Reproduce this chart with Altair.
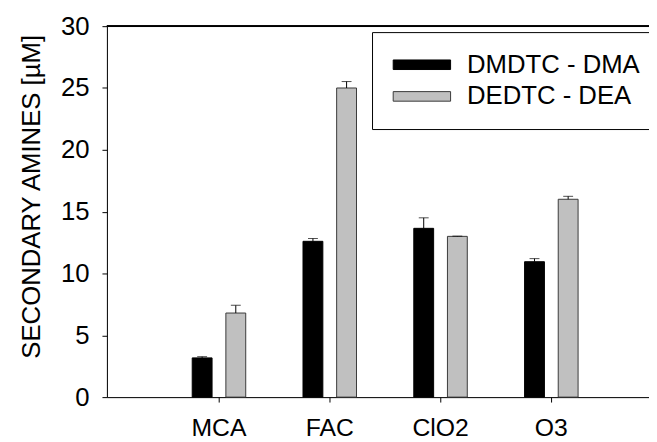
import altair as alt
import pandas as pd

categories = ["MCA", "FAC", "ClO2", "O3"]
series = ["DMDTC - DMA", "DEDTC - DEA"]
dma = [3.17, 12.6, 13.65, 10.95]
dma_err = [0.10, 0.23, 0.85, 0.25]
dea = [6.8, 25.0, 13.0, 16.0]
dea_err = [0.62, 0.52, 0.02, 0.24]

rows = []
for i, c in enumerate(categories):
    rows.append({"cat": c, "series": series[0], "value": dma[i], "hi": dma[i] + dma_err[i]})
    rows.append({"cat": c, "series": series[1], "value": dea[i], "hi": dea[i] + dea_err[i]})
df = pd.DataFrame(rows)

FONT = "Liberation Sans"

xenc = alt.X("cat:N", sort=categories, title=None,
             scale=alt.Scale(paddingInner=0.517, paddingOuter=0.705, align=0.546),
             axis=alt.Axis(labelAngle=0, labelFontSize=25, labelFont=FONT, labelColor="black",
                           tickSize=5, tickColor="black", domainColor="black", labelPadding=14))
xoff = alt.XOffset("series:N", sort=series, scale=alt.Scale(paddingInner=0.41, paddingOuter=0))
yscale = alt.Scale(domain=[0, 30], nice=False)

bars = alt.Chart(df).mark_bar(strokeWidth=1).encode(
    x=xenc,
    xOffset=xoff,
    y=alt.Y("value:Q", scale=yscale, title="SECONDARY AMINES [µM]",
            axis=alt.Axis(values=[0, 5, 10, 15, 20, 25, 30], grid=False, labelFontSize=26,
                          labelFont=FONT, labelColor="black", titleFont=FONT, titleFontSize=26,
                          titleFontWeight="normal", titleColor="black", tickSize=5,
                          tickColor="black", domainColor="black", labelPadding=13,
                          titlePadding=16, titleY=172)),
    fill=alt.Fill("series:N", sort=series,
                  scale=alt.Scale(domain=series, range=["#000000", "#c0c0c0"]),
                  legend=alt.Legend(title=None, orient="none", legendX=268, legendY=6,
                                    direction="vertical", labelFont=FONT, labelFontSize=26,
                                    labelColor="black", labelOffset=50,
                                    symbolType="M-1.2,-0.5H4.8V0.5H-1.2Z", symbolSize=374,
                                    symbolStrokeWidth=1, rowPadding=6, padding=20,
                                    strokeColor="black", fillColor="white", labelLimit=400)),
    stroke=alt.Stroke("series:N", sort=series,
                      scale=alt.Scale(domain=series, range=["#000000", "#3a3a3a"]),
                      legend=None),
)

err = alt.Chart(df).mark_rule(color="black", strokeWidth=1).encode(
    x=alt.X("cat:N", sort=categories), xOffset=xoff,
    y=alt.Y("value:Q", scale=yscale), y2="hi:Q")

caps = alt.Chart(df).mark_tick(color="black", size=10, thickness=1).encode(
    x=alt.X("cat:N", sort=categories), xOffset=xoff,
    y=alt.Y("hi:Q", scale=yscale))

top = alt.Chart(df).mark_rule(color="black", strokeWidth=1).encode(y=alt.datum(30))

chart = alt.layer(bars, err, caps, top).properties(
    width=548, height=375,
    autosize=alt.AutoSizeParams(type="none"),
    padding={"left": 100, "top": 16, "right": 0, "bottom": 42},
).configure_view(stroke=None).configure(background="white")

chart.save("out.html", embed_options={"renderer": "svg", "actions": False})
